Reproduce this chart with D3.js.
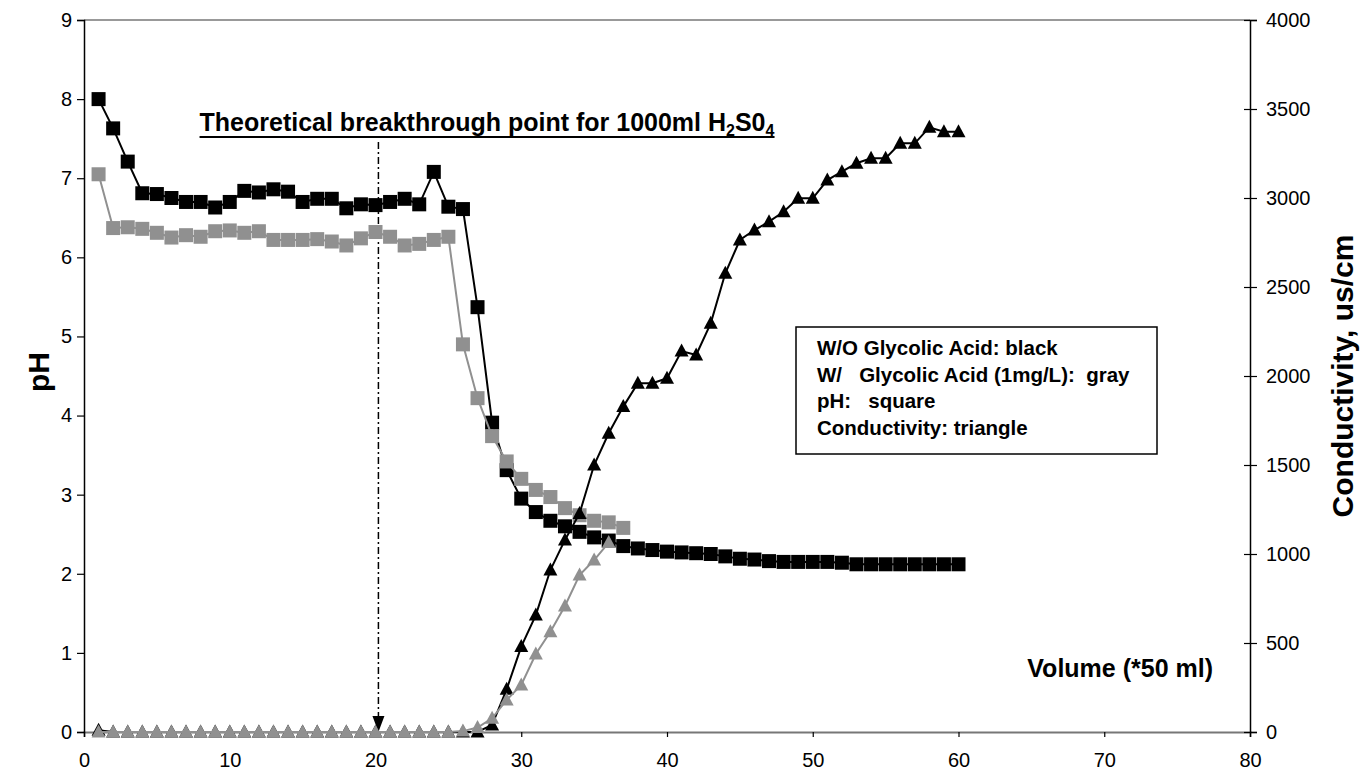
<body style="margin:0;background:#fff">
<script src="https://cdn.jsdelivr.net/npm/d3@7"></script>
<script>
    // volume index (*50 ml) for each measurement
    const volumes = d3.range(1, 61);

    // pH, without glycolic acid (black squares)
    const phBlack = [8.0, 7.63, 7.21, 6.81, 6.80, 6.75, 6.70, 6.70, 6.63, 6.70,
        6.84, 6.82, 6.86, 6.83, 6.70, 6.74, 6.74, 6.62, 6.67, 6.66,
        6.70, 6.74, 6.67, 7.08, 6.64, 6.61, 5.37, 3.91, 3.31, 2.95,
        2.78, 2.67, 2.60, 2.53, 2.46, 2.42, 2.35, 2.32, 2.30, 2.28,
        2.27, 2.26, 2.25, 2.22, 2.19, 2.18, 2.16, 2.15, 2.15, 2.15,
        2.15, 2.14, 2.12, 2.12, 2.12, 2.12, 2.12, 2.12, 2.12, 2.12];

    // pH, with glycolic acid 1mg/L (gray squares)
    const phGray = [7.05, 6.37, 6.38, 6.36, 6.31, 6.25, 6.28, 6.26, 6.33, 6.34,
        6.31, 6.33, 6.22, 6.22, 6.22, 6.23, 6.20, 6.15, 6.24, 6.32,
        6.26, 6.15, 6.17, 6.22, 6.26, 4.90, 4.22, 3.74, 3.42, 3.20,
        3.06, 2.97, 2.83, 2.74, 2.67, 2.65, 2.58];

    // conductivity us/cm, without glycolic acid (black triangles)
    const condBlack = [10, 0, 0, 0, 0, 0, 0, 0, 0, 0,
        0, 0, 0, 0, 0, 0, 0, 0, 0, 0,
        0, 0, 0, 0, 0, 0, 0, 40, 240, 480,
        657, 910, 1079, 1228, 1500, 1678, 1828, 1959, 1959, 1987,
        2140, 2118, 2296, 2577, 2764, 2820, 2867, 2923, 2998, 2998,
        3101, 3148, 3195, 3223, 3223, 3307, 3307, 3397, 3372, 3372];

    // conductivity us/cm, with glycolic acid (gray triangles)
    const condGray = [0, 0, 0, 0, 0, 0, 0, 0, 0, 0,
        0, 0, 0, 0, 0, 0, 0, 0, 0, 0,
        0, 0, 0, 0, 0, 5, 25, 77, 180, 264,
        438, 563, 708, 882, 966, 1064];

    const xTicks = [0, 10, 20, 30, 40, 50, 60, 70, 80];
    const phTicks = [0, 1, 2, 3, 4, 5, 6, 7, 8, 9];
    const condTicks = [0, 500, 1000, 1500, 2000, 2500, 3000, 3500, 4000];
    const breakthrough = 20.2;

    const legendLines = [
        "W/O Glycolic Acid: black",
        "W/   Glycolic Acid (1mg/L):  gray",
        "pH:   square",
        "Conductivity: triangle"
    ];

    const width = 1362;
    const height = 774;
    const m = {left: 84, right: 1250, top: 20, bottom: 732};
    const black = "#000";
    const gray = "#909090";

    const x = d3.scaleLinear().domain([0, 80]).range([m.left, m.right]);
    const yPh = d3.scaleLinear().domain([0, 9]).range([m.bottom, m.top]);
    const yCond = d3.scaleLinear().domain([0, 4000]).range([m.bottom, m.top]);

    const svg = d3.select("body")
        .append("svg")
        .attr("width", width)
        .attr("height", height)
        .style("font-family", "Arial, 'Liberation Sans', sans-serif");

    // frame
    svg.append("line")
        .attr("x1", m.left).attr("x2", m.right)
        .attr("y1", m.top).attr("y2", m.top)
        .attr("stroke", "#777").attr("stroke-width", 1.5);

    const xAxis = svg.append("g")
        .attr("transform", "translate(0," + m.bottom + ")")
        .call(d3.axisBottom(x).tickValues(xTicks).tickSize(5).tickPadding(16));

    const yAxis = svg.append("g")
        .attr("transform", "translate(" + m.left + ",0)")
        .call(d3.axisLeft(yPh).tickValues(phTicks).tickSize(7).tickPadding(5));

    const y2Axis = svg.append("g")
        .attr("transform", "translate(" + m.right + ",0)")
        .call(d3.axisRight(yCond).tickValues(condTicks).tickFormat(d3.format("d"))
            .tickSize(7).tickPadding(9));
    y2Axis.selectAll(".tick line").attr("x1", -6);

    [xAxis, yAxis, y2Axis].forEach(g => {
        g.selectAll(".domain").attr("stroke-width", 1.5);
        g.selectAll("text").attr("font-size", 20).attr("fill", "#000")
            .style("font-family", "Arial, 'Liberation Sans', sans-serif");
        g.selectAll(".tick line").attr("stroke-width", 1.2);
    });
    xAxis.select(".domain").attr("stroke", "#777").attr("stroke-width", 2);

    // breakthrough marker
    svg.append("line")
        .attr("x1", x(breakthrough)).attr("x2", x(breakthrough))
        .attr("y1", 142).attr("y2", m.bottom - 14)
        .attr("stroke", "#000").attr("stroke-width", 1.5)
        .attr("stroke-dasharray", "7,3,2,3");
    svg.append("path")
        .attr("d", d3.line()([[x(breakthrough) - 6, m.bottom - 16], [x(breakthrough) + 6, m.bottom - 16], [x(breakthrough), m.bottom]]))
        .attr("fill", "#000");

    const title = svg.append("text")
        .attr("x", 487).attr("y", 131)
        .attr("text-anchor", "middle")
        .attr("font-weight", "bold")
        .attr("font-size", 25);
    title.append("tspan").text("Theoretical breakthrough point for 1000ml H");
    title.append("tspan").attr("dy", 5).attr("font-size", 16).text("2");
    title.append("tspan").attr("dy", -5).text("S0");
    title.append("tspan").attr("dy", 5).attr("font-size", 16).text("4");
    const tb = title.node().getBBox();
    svg.append("line")
        .attr("x1", tb.x).attr("x2", tb.x + tb.width)
        .attr("y1", 137).attr("y2", 137)
        .attr("stroke", "#000").attr("stroke-width", 2);

    // series
    function drawLine(values, yScale, color) {
        svg.append("path")
            .datum(values)
            .attr("fill", "none")
            .attr("stroke", color)
            .attr("stroke-width", 2)
            .attr("d", d3.line()
                .x((d, i) => x(volumes[i]))
                .y(d => yScale(d)));
    }

    function drawSquares(values, color) {
        const s = 14;
        svg.append("g").selectAll("rect")
            .data(values)
            .enter()
            .append("rect")
            .attr("x", (d, i) => x(volumes[i]) - s / 2)
            .attr("y", d => yPh(d) - s / 2)
            .attr("width", s)
            .attr("height", s)
            .attr("fill", color);
    }

    function drawTriangles(values, color) {
        svg.append("g").selectAll("path")
            .data(values)
            .enter()
            .append("path")
            .attr("transform", (d, i) => "translate(" + x(volumes[i]) + "," + yCond(d) + ")")
            .attr("d", "M0,-7.5L7,5.5L-7,5.5Z")
            .attr("fill", color);
    }

    drawLine(phBlack, yPh, black);
    drawSquares(phBlack, black);
    drawLine(phGray, yPh, gray);
    drawSquares(phGray, gray);
    drawLine(condBlack, yCond, black);
    drawTriangles(condBlack, black);
    drawLine(condGray, yCond, gray);
    drawTriangles(condGray, gray);

    // legend box
    svg.append("rect")
        .attr("x", 796).attr("y", 327)
        .attr("width", 361).attr("height", 127)
        .attr("fill", "#fff")
        .attr("stroke", "#000").attr("stroke-width", 1.5);
    svg.append("g").selectAll("text")
        .data(legendLines)
        .enter()
        .append("text")
        .attr("x", 817)
        .attr("y", (d, i) => 355 + i * 26.7)
        .attr("font-size", 20.5)
        .attr("font-weight", "bold")
        .style("white-space", "pre")
        .text(d => d);

    // axis titles
    svg.append("text")
        .attr("transform", "translate(49,372) rotate(-90)")
        .attr("text-anchor", "middle")
        .attr("font-size", 30)
        .attr("font-weight", "bold")
        .text("pH");

    svg.append("text")
        .attr("transform", "translate(1353,376) rotate(-90)")
        .attr("text-anchor", "middle")
        .attr("font-size", 30)
        .attr("font-weight", "bold")
        .style("font-family", "'Liberation Sans Narrow', 'Arial Narrow', Arial, sans-serif")
        .text("Conductivity, us/cm");

    svg.append("text")
        .attr("x", 1213).attr("y", 677)
        .attr("text-anchor", "end")
        .attr("font-size", 25)
        .attr("font-weight", "bold")
        .style("font-family", "'Liberation Sans Narrow', 'Arial Narrow', Arial, sans-serif")
        .text("Volume (*50 ml)");
</script>
</body>
